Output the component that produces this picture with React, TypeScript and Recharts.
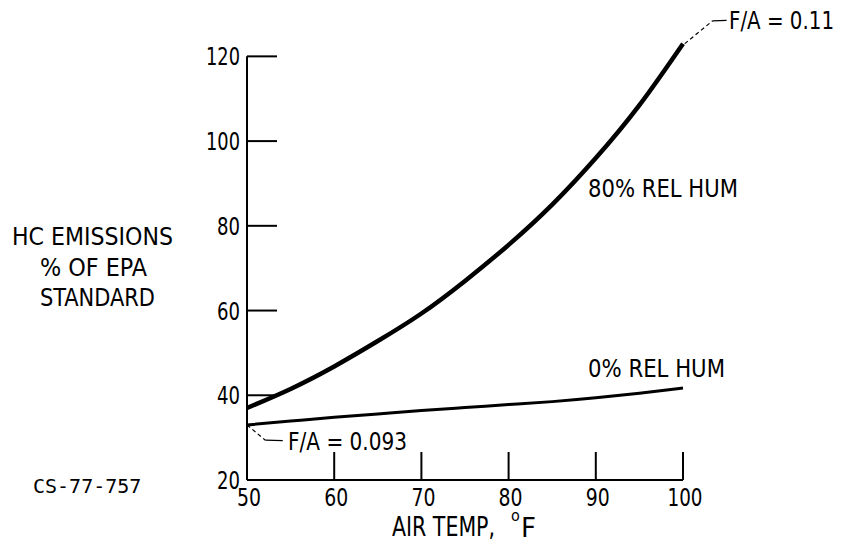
import React from "react";
import { LineChart, Line, XAxis, YAxis, ReferenceLine } from "recharts";

const temps = [50, 55, 60, 65, 70, 75, 80, 85, 90, 95, 100];
const hum80 = [37, 41.5, 46.8, 52.8, 59.3, 67, 75.5, 85, 96, 108.5, 123];
const hum0 = [33, 33.9, 34.8, 35.6, 36.4, 37.1, 37.8, 38.5, 39.4, 40.5, 41.7];
const xTicks = [50, 60, 70, 80, 90, 100];
const yTicks = [20, 40, 60, 80, 100, 120];

const data = temps.map((t, i) => ({ t, hum80: hum80[i], hum0: hum0[i] }));

const FONT = "'DejaVu Sans Condensed', 'DejaVu Sans', sans-serif";

// the lettering on the original is narrow, so squeeze text to the measured widths
function Lbl(props: any) {
  const { w, children, ...rest } = props;
  return (
    <text textLength={w} lengthAdjust="spacingAndGlyphs" {...rest}>
      {children}
    </text>
  );
}

function YTick(props: any) {
  const { x, y, payload } = props;
  const v = payload.value;
  return (
    <g>
      {v !== 20 && <line x1={x} y1={y} x2={x + 30} y2={y} stroke="#000" strokeWidth={2} />}
      <Lbl x={x - 7} y={y} dy={9} w={v >= 100 ? 34 : 23} textAnchor="end" fontSize={25} fill="#000">
        {v}
      </Lbl>
    </g>
  );
}

function XTick(props: any) {
  const { x, y, payload } = props;
  const v = payload.value;
  return (
    <g>
      {v !== 50 && <line x1={x} y1={y} x2={x} y2={y - 28} stroke="#000" strokeWidth={2} />}
      <Lbl x={x + 2} y={y} dy={26} w={v >= 100 ? 35 : 24} textAnchor="middle" fontSize={25} fill="#000">
        {v}
      </Lbl>
    </g>
  );
}

export default function App() {
  return (
    <div style={{ position: "absolute", left: 0, top: 0, width: 846, height: 551, background: "#fff", fontFamily: FONT }}>
      <LineChart width={846} height={551} data={data} margin={{ top: 14, right: 163, bottom: 31, left: 187 }}>
        <XAxis
          dataKey="t"
          type="number"
          domain={[50, 100]}
          ticks={xTicks}
          height={40}
          tickSize={0}
          tickMargin={0}
          tick={<XTick />}
          axisLine={{ stroke: "#000", strokeWidth: 2 }}
        />
        <YAxis
          type="number"
          domain={[20, 130]}
          ticks={yTicks}
          width={60}
          tickSize={0}
          tickMargin={0}
          tick={<YTick />}
          axisLine={false}
        />
        <ReferenceLine segment={[{ x: 50, y: 20 }, { x: 50, y: 120 }]} stroke="#000" strokeWidth={2} />
        <Line dataKey="hum80" type="natural" stroke="#000" strokeWidth={4.5} dot={false} isAnimationActive={false} />
        <Line dataKey="hum0" type="natural" stroke="#000" strokeWidth={3} dot={false} isAnimationActive={false} />
        <ReferenceLine segment={[{ x: 50, y: 33 }, { x: 52.1, y: 29.4 }]} stroke="#000" strokeWidth={1.2} strokeDasharray="4 3" ifOverflow="visible" />
        <ReferenceLine segment={[{ x: 52.1, y: 29.4 }, { x: 54.1, y: 29.3 }]} stroke="#000" strokeWidth={1.2} ifOverflow="visible" />
        <ReferenceLine segment={[{ x: 100.2, y: 123 }, { x: 103.4, y: 128.4 }]} stroke="#000" strokeWidth={1.2} strokeDasharray="4 3" ifOverflow="visible" />
        <ReferenceLine segment={[{ x: 103.4, y: 128.4 }, { x: 105, y: 128.5 }]} stroke="#000" strokeWidth={1.2} ifOverflow="visible" />
      </LineChart>
      <svg width={846} height={551} style={{ position: "absolute", left: 0, top: 0, pointerEvents: "none" }}>
        <g fontSize={25} fill="#000">
          <Lbl x={12} y={245} w={161}>HC EMISSIONS</Lbl>
          <Lbl x={40} y={276} w={107}>% OF EPA</Lbl>
          <Lbl x={40} y={306} w={115}>STANDARD</Lbl>
          <Lbl x={392} y={536} w={103} fontSize={27}>AIR TEMP,</Lbl>
          <text x={511} y={521} fontSize={16}>o</text>
          <Lbl x={521} y={537} w={15} fontSize={26}>F</Lbl>
          <Lbl x={588} y={197} w={150}>80% REL HUM</Lbl>
          <Lbl x={588} y={377} w={137}>0% REL HUM</Lbl>
          <Lbl x={288} y={450} w={119}>F/A = 0.093</Lbl>
          <Lbl x={729} y={29} w={105}>F/A = 0.11</Lbl>
        </g>
        <text x={33} y={493} fontSize={20} fontFamily="'DejaVu Sans Mono', monospace" fill="#000">
          CS-77-757
        </text>
      </svg>
    </div>
  );
}
